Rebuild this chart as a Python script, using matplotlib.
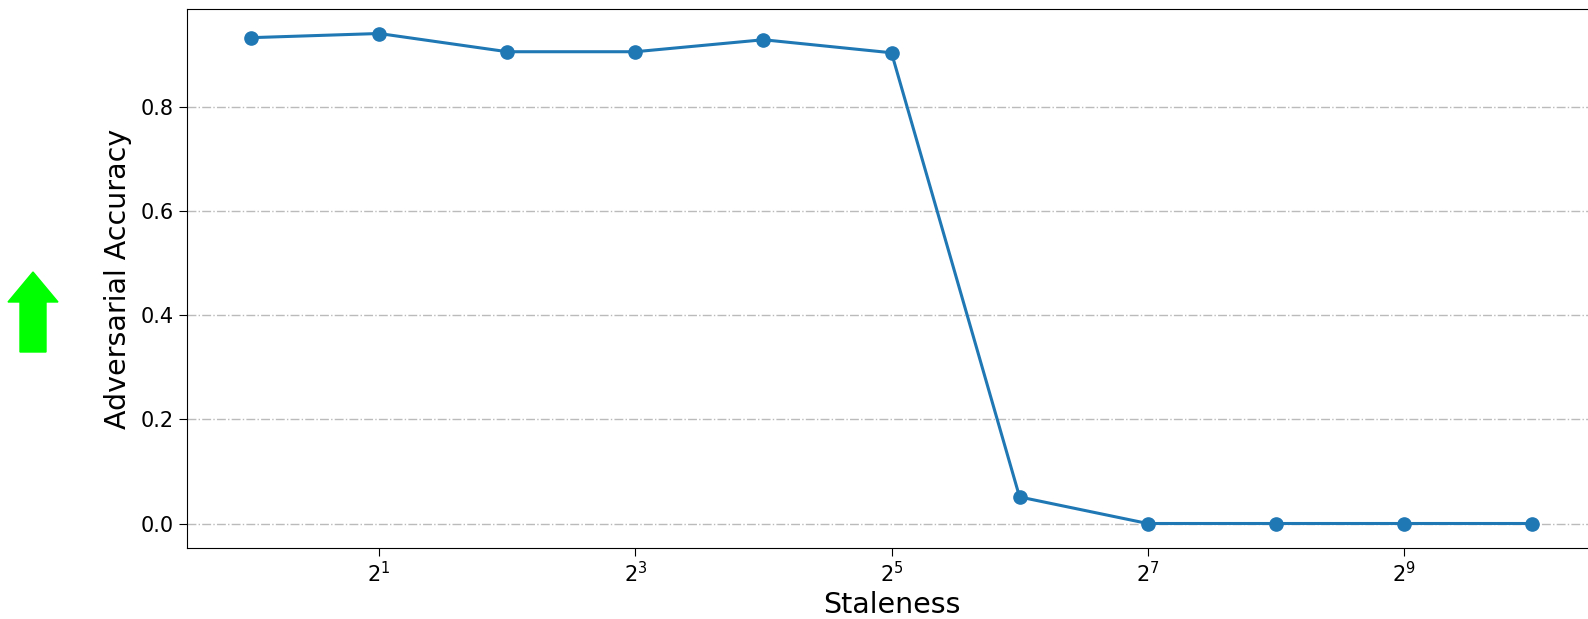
import matplotlib
matplotlib.use("Agg")
import matplotlib.pyplot as plt
from matplotlib.patches import FancyArrow

staleness = [2 ** k for k in range(11)]
adv_acc = [0.933, 0.941, 0.906, 0.906, 0.929, 0.904, 0.051, 0.0, 0.0, 0.0, 0.0]
tick_pos = [2, 8, 32, 128, 512]
tick_labels = [r"$\mathdefault{2^{1}}$", r"$\mathdefault{2^{3}}$", r"$\mathdefault{2^{5}}$",
               r"$\mathdefault{2^{7}}$", r"$\mathdefault{2^{9}}$"]

fig = plt.figure(figsize=(15.88, 6.19), dpi=100)
# axes run slightly past the right border of the figure
ax = fig.add_axes([187 / 1588, 1 - 548 / 619, (1596 - 187) / 1588, (548 - 9) / 619])

ax.plot(staleness, adv_acc, '-o', color='#1f77b4', linewidth=2.2, markersize=9.5)
ax.set_xscale('log', base=2)
ax.set_xticks(tick_pos)
ax.set_xticklabels(tick_labels)
ax.minorticks_off()
ax.set_yticks([0.0, 0.2, 0.4, 0.6, 0.8])
ax.tick_params(labelsize=15, length=6)
ax.grid(True, axis='y', linestyle='-.', color='#bbbbbb', linewidth=1)
ax.set_xlabel('Staleness', fontsize=20.5, labelpad=3)
ax.set_ylabel('Adversarial Accuracy', fontsize=20.5, labelpad=6)

# green up arrow next to the y label
arrow = FancyArrow(33 / 1588, 1 - 352 / 619, 0, 80 / 619, width=26 / 1588,
                   head_width=50 / 1588, head_length=30 / 619,
                   length_includes_head=True, color='#00ff00',
                   transform=fig.transFigure)
fig.patches.append(arrow)

fig.savefig('out.png', dpi=100)
